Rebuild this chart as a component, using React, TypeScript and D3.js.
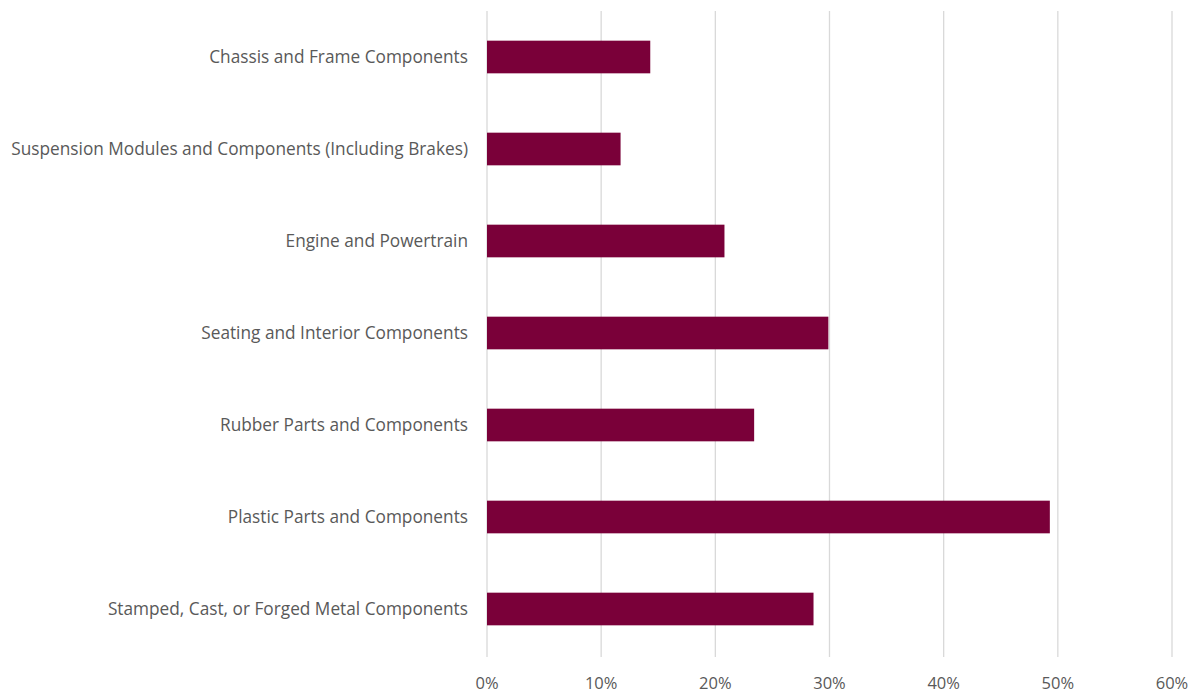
import React from "react";
import * as d3 from "d3";

const categories = [
  "Chassis and Frame Components",
  "Suspension Modules and Components (Including Brakes)",
  "Engine and Powertrain",
  "Seating and Interior Components",
  "Rubber Parts and Components",
  "Plastic Parts and Components",
  "Stamped, Cast, or Forged Metal Components",
];
const values = [0.143, 0.117, 0.208, 0.299, 0.234, 0.493, 0.286];
const ticks = [0, 0.1, 0.2, 0.3, 0.4, 0.5, 0.6];

const W = 1190;
const H = 694;
const left = 487;
const right = 1172;
const top = 11;
const bottom = 655;

export default function App() {
  const x = d3.scaleLinear().domain([0, 0.6]).range([left, right]);
  const y = d3.scaleBand<string>().domain(categories).range([top, bottom]).paddingInner(0.645).paddingOuter(0.3225);
  const fmt = d3.format(".0%");
  const font = "'Open Sans', sans-serif";
  return (
    <svg width={W} height={H} style={{ position: "absolute", left: 0, top: 0, background: "#fff" }}>
      {ticks.map((t) => (
        <line key={"g" + t} x1={x(t)} x2={x(t)} y1={top} y2={bottom + 2} stroke="#d9d9d9" strokeWidth={1.3} />
      ))}
      {categories.map((c, i) => (
        <rect key={c} x={x(0)} y={y(c)!} width={x(values[i]) - x(0)} height={y.bandwidth()} fill="#7a0039" />
      ))}
      {categories.map((c) => (
        <text key={"l" + c} x={468} y={y(c)! + y.bandwidth() / 2} dy="0.35em" textAnchor="end" fontFamily={font} fontSize={17.25} fill="#595959">
          {c}
        </text>
      ))}
      {ticks.map((t) => (
        <text key={"t" + t} x={x(t)} y={683} dy="0.35em" textAnchor="middle" fontFamily={font} fontSize={16.5} fill="#595959">
          {fmt(t)}
        </text>
      ))}
    </svg>
  );
}
